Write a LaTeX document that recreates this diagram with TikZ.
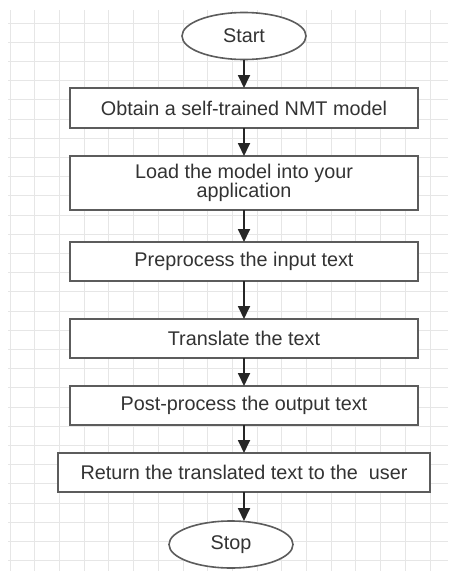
\documentclass[tikz,border=0pt]{standalone}
\usepackage{fontspec}
\setmainfont{Liberation Sans}
\usepackage{xcolor}
\usetikzlibrary{arrows.meta,positioning,shapes.geometric}
\definecolor{boxline}{HTML}{5C5C5C}
\definecolor{boxtext}{HTML}{333333}
\definecolor{gridline}{HTML}{E6E6E6}
\tikzset{
  stepbox/.style={draw=boxline, line width=1.8pt, rectangle, fill=white,
    minimum width=348pt, minimum height=39pt, inner sep=0pt, outer sep=0pt,
    align=center, text=boxtext, font=\fontsize{19.8}{19.5}\selectfont},
  terminal/.style={draw=boxline, line width=1.6pt, ellipse, fill=white,
    minimum width=124pt, minimum height=47pt, inner sep=0pt, outer sep=0pt,
    text=boxtext, font=\fontsize{19.8}{19.5}\selectfont},
  flow/.style={-{Triangle[width=12pt,length=13pt]}, line width=1.8pt, draw=black!85},
}

\begin{document}
\begin{tikzpicture}[x=1pt, y=-1pt, node distance=28pt]

    \useasboundingbox (0,0) rectangle (453,571);

    % === background grid ===
    \fill[white] (0,0) rectangle (453,571);
    \begin{scope}
      \clip (8,10) rectangle (448,571);
      \foreach \gx in {0,...,18}
        \draw[gridline, line width=0.8pt] (10+24.7*\gx,10) -- (10+24.7*\gx,571);
      \foreach \gy in {0,...,29}
        \draw[gridline, line width=0.8pt] (8,23+19.2*\gy) -- (448,23+19.2*\gy);
    \end{scope}

    % === Flow steps ===
    \node[terminal] (start) at (244,36) {Start};
    \node[stepbox, minimum height=40pt, below=28.5pt of start] (obtain) {Obtain a self-trained NMT model};
    \node[stepbox, minimum height=54pt, below=of obtain] (load) {Load the model into your\\application};
    \node[stepbox, below=32pt of load] (prep) {Preprocess the input text};
    \node[stepbox, below=38pt of prep] (trans) {Translate the text};
    \node[stepbox, below=of trans] (post) {Post-process the output text};
    \node[stepbox, minimum width=372pt, below=of post] (ret) {Return the translated text to the~ user};
    \node[terminal, below=29pt of ret, xshift=-13pt] (stop) {Stop};

    % === Connectors ===
    \draw[flow] (start) -- (obtain);
    \draw[flow] (obtain) -- (load);
    \draw[flow] (load) -- (prep);
    \draw[flow] (prep) -- (trans);
    \draw[flow] (trans) -- (post);
    \draw[flow] (post) -- (ret);
    \draw[flow] (ret.south) -- (ret.south |- stop.north);

\end{tikzpicture}
\end{document}
